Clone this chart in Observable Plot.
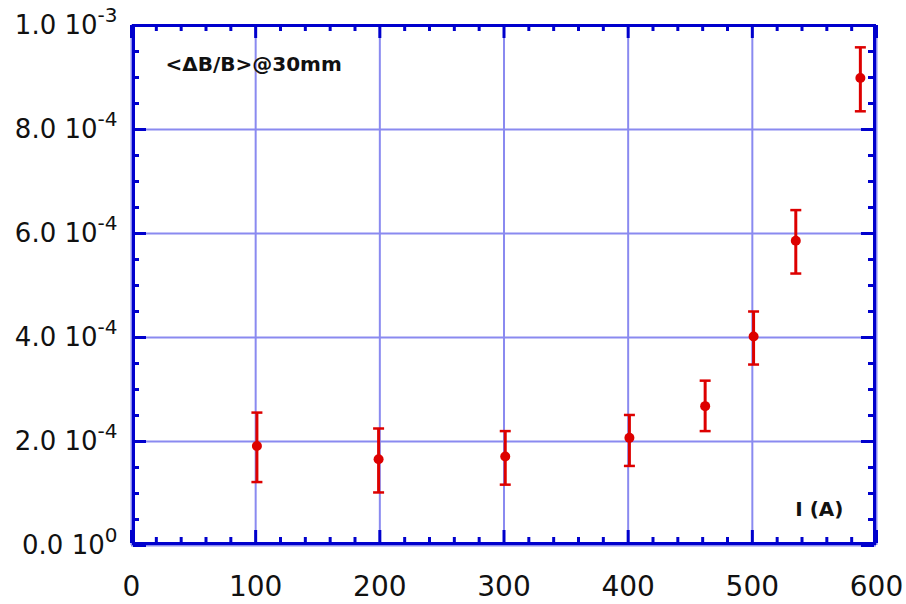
<!DOCTYPE html>
<html>
<head>
<meta charset="utf-8">
<script src="https://cdn.jsdelivr.net/npm/d3@7"></script>
<script src="https://cdn.jsdelivr.net/npm/@observablehq/plot@0.6"></script>
<style>
  html, body { margin: 0; padding: 0; background: #fff; }
</style>
</head>
<body>
<div id="chart"></div>
<script>
// Data
const current = [101, 199, 301, 401, 462, 501, 535, 587];          // I (A)
const meanDev = [1.915e-4, 1.66e-4, 1.71e-4, 2.07e-4, 2.68e-4, 4.02e-4, 5.86e-4, 8.99e-4];
const errLow  = [1.22e-4, 1.02e-4, 1.17e-4, 1.53e-4, 2.20e-4, 3.48e-4, 5.23e-4, 8.35e-4];
const errHigh = [2.556e-4, 2.25e-4, 2.20e-4, 2.51e-4, 3.17e-4, 4.50e-4, 6.45e-4, 9.58e-4];

const xMajor = [0, 100, 200, 300, 400, 500, 600];
const xMinor = d3.range(0, 601, 20).filter(v => v % 100 !== 0);
const yMajor = [0, 2e-4, 4e-4, 6e-4, 8e-4, 1e-3];
const yMinor = d3.range(0, 21).map(i => i * 0.5e-4).filter((v, i) => i % 4 !== 0);

const titleText = "<ΔB/B>@30mm";
const xLabelText = "I (A)";

const rows = current.map((x, i) => ({x, y: meanDev[i], lo: errLow[i], hi: errHigh[i]}));

const W = 906, H = 604;
const mL = 131, mR = 30, mT = 25, mB = 59;
const plotW = W - mL - mR, plotH = H - mT - mB;

const BLUE = "#0000cd";
const GRID = "#8a8af0";
const RED = "#dd0000";

const capSymbol = {
  draw(context, size) {
    const w = Math.sqrt(size / Math.PI);
    context.moveTo(-w, 0);
    context.lineTo(w, 0);
  }
};

function fmtY(v) {
  const s = v.toExponential(1);          // e.g. "2.0e-4"
  const [m, e] = s.split("e");
  return m + " 10^" + (+e);
}

const majL = 13, minL = 6, fi = 2;

const chart = Plot.plot({
  width: W,
  height: H,
  marginLeft: mL,
  marginRight: mR,
  marginTop: mT,
  marginBottom: mB,
  style: {fontFamily: "DejaVu Sans", background: "#fff"},
  x: {domain: [0, 600], axis: null},
  y: {domain: [0, 1e-3], axis: null},
  marks: [
    Plot.gridX(xMajor, {stroke: GRID, strokeOpacity: 1, strokeWidth: 2}),
    Plot.gridY(yMajor, {stroke: GRID, strokeOpacity: 1, strokeWidth: 2}),
    // major ticks (inward, all four sides)
    Plot.tickX(xMajor, {x: d => d, stroke: BLUE, strokeWidth: 3, insetTop: plotH - majL - fi, insetBottom: fi}),
    Plot.tickX(xMajor, {x: d => d, stroke: BLUE, strokeWidth: 3, insetBottom: plotH - majL, insetTop: 0}),
    Plot.tickY(yMajor, {y: d => d, stroke: BLUE, strokeWidth: 3, insetRight: plotW - majL - fi, insetLeft: fi}),
    Plot.tickY(yMajor, {y: d => d, stroke: BLUE, strokeWidth: 3, insetLeft: plotW - majL - fi, insetRight: fi}),
    // minor ticks
    Plot.tickX(xMinor, {x: d => d, stroke: BLUE, strokeWidth: 3, insetTop: plotH - minL - fi, insetBottom: fi}),
    Plot.tickX(xMinor, {x: d => d, stroke: BLUE, strokeWidth: 3, insetBottom: plotH - minL, insetTop: 0}),
    Plot.tickY(yMinor, {y: d => d, stroke: BLUE, strokeWidth: 3, insetRight: plotW - minL - fi, insetLeft: fi}),
    Plot.tickY(yMinor, {y: d => d, stroke: BLUE, strokeWidth: 3, insetLeft: plotW - minL - fi, insetRight: fi}),
    Plot.frame({stroke: BLUE, strokeWidth: 3, insetLeft: fi, insetRight: fi, insetBottom: fi}),
    // axis labels
    Plot.axisX(xMajor, {anchor: "bottom", tickSize: 0, tickPadding: 31, fontSize: 28, fill: "#111", label: null, tickFormat: d => String(d)}),
    Plot.axisY(yMajor, {anchor: "left", tickSize: 0, tickPadding: 14, fontSize: 26, fill: "#111", label: null, tickFormat: fmtY}),
    // error bars
    Plot.ruleX(rows, {x: "x", y1: "lo", y2: "hi", stroke: RED, strokeWidth: 3}),
    Plot.dot(rows, {x: "x", y: "lo", symbol: capSymbol, r: 5.5, stroke: RED, strokeWidth: 2.5, fill: "none"}),
    Plot.dot(rows, {x: "x", y: "hi", symbol: capSymbol, r: 5.5, stroke: RED, strokeWidth: 2.5, fill: "none"}),
    Plot.dot(rows, {x: "x", y: "y", r: 5, fill: RED, stroke: "none"}),
    // annotations
    Plot.text([titleText], {frameAnchor: "top-left", text: d => d, dx: 34, dy: 39.5, textAnchor: "start", lineAnchor: "middle", fontWeight: "bold", fontSize: 20, fontFamily: "DejaVu Sans", fill: "#111"}),
    Plot.text([xLabelText], {frameAnchor: "bottom-right", text: d => d, dx: -33, dy: -36, textAnchor: "end", lineAnchor: "middle", fontWeight: "bold", fontSize: 20, fontFamily: "DejaVu Sans", fill: "#111"})
  ]
});

// superscript exponents on y tick labels
d3.select(chart).selectAll('g[aria-label="y-axis tick label"] text').each(function () {
  const t = d3.select(this);
  const s = t.text();
  if (!s.includes("^")) return;
  const [main, exp] = s.split("^");
  t.text(null);
  t.append("tspan").text(main);
  t.append("tspan").attr("dy", "-12").attr("font-size", 20).text(exp);
});

document.getElementById("chart").appendChild(chart);
</script>
</body>
</html>
